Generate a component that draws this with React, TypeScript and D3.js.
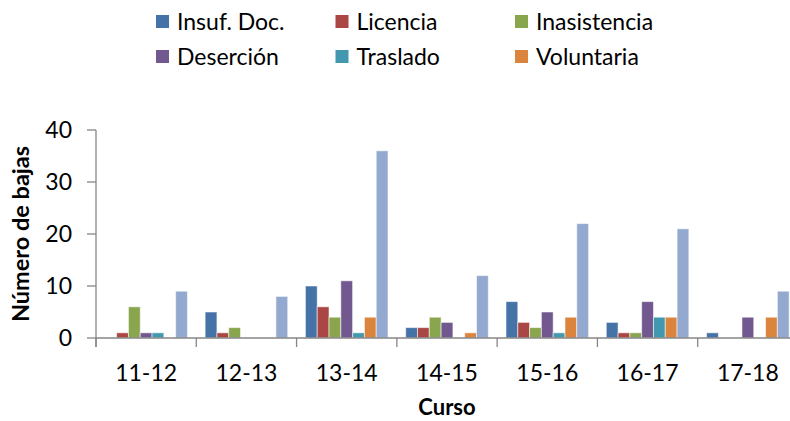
import React, { useEffect } from "react";
import * as d3 from "d3";

// Cursos (eje x)
const cursos = ["11-12", "12-13", "13-14", "14-15", "15-16", "16-17", "17-18"];

// Motivos de baja, en el orden de las barras
const motivos = ["Insuf. Doc.", "Licencia", "Inasistencia", "Deserción", "Traslado", "Voluntaria", "Total"];
const colores = ["#4572A7", "#AA4643", "#89A54E", "#71588F", "#4198AF", "#DB843D", "#93A9CF"];

// Valores por motivo, uno por curso
const insufDoc = [0, 5, 10, 2, 7, 3, 1];
const licencia = [1, 1, 6, 2, 3, 1, 0];
const inasistencia = [6, 2, 4, 4, 2, 1, 0];
const desercion = [1, 0, 11, 3, 5, 7, 4];
const traslado = [1, 0, 1, 0, 1, 4, 0];
const voluntaria = [0, 0, 4, 1, 4, 4, 4];
const total = [9, 8, 36, 12, 22, 21, 9];

const yTicks = [0, 10, 20, 30, 40];

const series = [insufDoc, licencia, inasistencia, desercion, traslado, voluntaria, total];

const W = 790;
const H = 421;
const margin = { left: 96, right: -8, top: 130, bottom: 83 };
const font = "Lato, 'Open Sans', sans-serif";
const axisColor = "#868686";

export default function App() {
  useEffect(() => {
    document.body.style.margin = "0";
  }, []);

  const x0 = d3
    .scaleBand<string>()
    .domain(cursos)
    .range([margin.left, W - margin.right])
    .paddingInner(0)
    .paddingOuter(0);

  const x1 = d3
    .scaleBand<string>()
    .domain(motivos)
    .range([0, x0.bandwidth()])
    .paddingInner(0)
    .paddingOuter(0.75);

  const y = d3
    .scaleLinear()
    .domain([0, 40])
    .range([H - margin.bottom, margin.top]);

  const y0 = y(0);
  const step = x0.step();
  const boundaries = d3.range(cursos.length + 1).map((i) => margin.left + i * step);

  // legend: 6 entries, 3 columns x 2 rows
  const legendItems = motivos.slice(0, 6);

  return (
    <svg width={W} height={H} style={{ display: "block", background: "#fff" }} fontFamily={font}>
      {/* bars */}
      {cursos.map((c, ci) => (
        <g key={c} transform={`translate(${x0(c)},0)`}>
          {series.map((s, si) => {
            const v = s[ci];
            if (!v) return null;
            return (
              <rect
                key={si}
                x={x1(motivos[si])}
                y={y(v)}
                width={x1.bandwidth()}
                height={y0 - y(v)}
                fill={colores[si]}
                stroke="#ffffff"
                strokeOpacity={0.55}
                strokeWidth={1}
              />
            );
          })}
        </g>
      ))}

      {/* y axis */}
      <line x1={margin.left} x2={margin.left} y1={y(40)} y2={y0 + 9} stroke={axisColor} strokeWidth={1.3} />
      {yTicks.map((t) => (
        <g key={t}>
          <line x1={margin.left - 9} x2={margin.left} y1={y(t)} y2={y(t)} stroke={axisColor} strokeWidth={1.3} />
          <text x={margin.left - 24} y={y(t)} dy="0.36em" textAnchor="end" fontSize={23} fill="#000">
            {t}
          </text>
        </g>
      ))}

      {/* x axis */}
      <line x1={margin.left} x2={W + 10} y1={y0} y2={y0} stroke={axisColor} strokeWidth={1.3} />
      {boundaries.map((bx, i) => (
        <line key={i} x1={bx} x2={bx} y1={y0} y2={y0 + 9} stroke={axisColor} strokeWidth={1.3} />
      ))}
      {cursos.map((c) => (
        <text key={c} x={(x0(c) as number) + x0.bandwidth() / 2} y={381} textAnchor="middle" fontSize={23} fill="#000">
          {c}
        </text>
      ))}

      {/* axis titles */}
      <text x={447} y={415} textAnchor="middle" fontSize={22} fontWeight="bold" fill="#000">
        Curso
      </text>
      <text
        transform={`translate(29,${(y(40) + y0) / 2}) rotate(-90)`}
        textAnchor="middle"
        fontSize={23.5}
        fontWeight="bold"
        fill="#000"
      >
        Número de bajas
      </text>

      {/* legend */}
      {legendItems.map((m, i) => {
        const col = i % 3;
        const row = Math.floor(i / 3);
        const lx = 156 + col * 179.5;
        const ly = 22 + row * 35;
        return (
          <g key={m}>
            <rect x={lx} y={ly - 7} width={13} height={13} fill={colores[i]} />
            <text x={lx + 21} y={ly} dy="0.36em" fontSize={23} fill="#000">
              {m}
            </text>
          </g>
        );
      })}
    </svg>
  );
}
